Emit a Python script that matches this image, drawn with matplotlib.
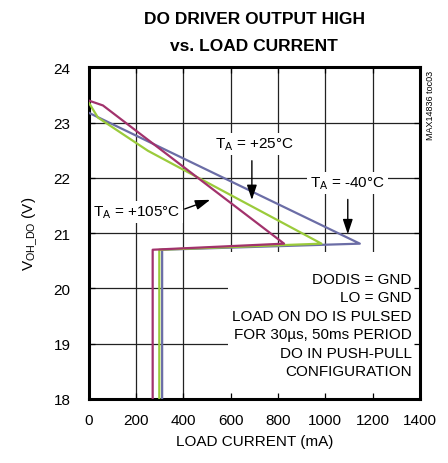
import matplotlib
matplotlib.use("Agg")
import matplotlib.pyplot as plt
from matplotlib import font_manager
from matplotlib.patches import Rectangle

names = {f.name for f in font_manager.fontManager.ttflist}
FONT = "Liberation Sans Narrow" if "Liberation Sans Narrow" in names else "Liberation Sans"
NARROW = FONT == "Liberation Sans Narrow"
plt.rcParams['font.family'] = [FONT, 'DejaVu Sans']
plt.rcParams['mathtext.fontset'] = 'custom'
plt.rcParams['mathtext.rm'] = FONT
plt.rcParams['mathtext.it'] = FONT

# Data (load current mA, VOH V)
cur_m40 = [0, 1146, 311, 311]
v_m40 = [23.18, 20.81, 20.70, 18.0]
cur_25 = [0, 40, 251, 984, 299, 299]
v_25 = [23.37, 23.09, 22.49, 20.81, 20.70, 18.0]
cur_105 = [0, 61, 826, 271, 271]
v_105 = [23.40, 23.31, 20.81, 20.70, 18.0]

xticks = [0, 200, 400, 600, 800, 1000, 1200, 1400]
yticks = [18, 19, 20, 21, 22, 23, 24]

C_M40 = "#6B6DA6"
C_25 = "#9BCB3B"
C_105 = "#A2326C"

FS = 12.5 if NARROW else 11
TFS = 14.5 if NARROW else 12.5

fig = plt.figure(figsize=(4.48, 4.64), dpi=100)
ax = fig.add_axes([88.5/448, 1-400/464, (420-88.5)/448, (400-68.3)/464])
ax.set_xlim(0, 1400)
ax.set_ylim(18, 24)

for x in xticks[1:-1]:
    ax.axvline(x, color='#222222', lw=0.9, zorder=1)
for y in yticks[1:-1]:
    ax.axhline(y, color='#222222', lw=0.9, zorder=1)

ax.add_patch(Rectangle((0.421, 0.0), 0.579, 0.443, transform=ax.transAxes,
                       facecolor='white', edgecolor='none', zorder=1.5))

ax.plot(cur_m40, v_m40, color=C_M40, lw=1.6, zorder=3)
ax.plot(cur_25, v_25, color=C_25, lw=1.6, zorder=3)
ax.plot(cur_105, v_105, color=C_105, lw=1.6, zorder=3.1)

ax.set_xticks(xticks)
ax.set_yticks(yticks)
ax.tick_params(direction='in', length=4, width=0.9, labelsize=FS, top=True, right=True)
ax.tick_params(axis='x', pad=10)
ax.tick_params(axis='y', pad=13)
for s in ax.spines.values():
    s.set_linewidth(2.2)

ax.set_xlabel("LOAD CURRENT (mA)", fontsize=FS, labelpad=5)
ax.set_ylabel(r"$\mathregular{V_{OH\_DO}}$ (V)", fontsize=FS, labelpad=10)

fig.text(0.567, 0.957, "DO DRIVER OUTPUT HIGH", ha='center', va='center',
         fontsize=TFS, fontweight='bold')
fig.text(0.567, 0.899, "vs. LOAD CURRENT", ha='center', va='center',
         fontsize=TFS, fontweight='bold')

bb = dict(boxstyle='square,pad=0.2', facecolor='white', edgecolor='none')
arw = dict(arrowstyle='-|>,head_length=0.9,head_width=0.3', color='black', lw=1.0)
ax.text(534, 22.61, r"$\mathregular{T_A}$ = +25°C", ha='left', va='center',
        fontsize=FS, bbox=bb, zorder=2)
ax.annotate("", xy=(690, 21.55), xytext=(690, 22.36), arrowprops=arw, zorder=4)
ax.text(1093, 21.91, r"$\mathregular{T_A}$ = -40°C", ha='center', va='center',
        fontsize=FS, bbox=bb, zorder=2)
ax.annotate("", xy=(1095, 20.93), xytext=(1095, 21.66), arrowprops=arw, zorder=4)
ax.text(203, 21.38, r"$\mathregular{T_A}$ = +105°C", ha='center', va='center',
        fontsize=FS, bbox=bb, zorder=2)
ax.annotate("", xy=(525, 21.62), xytext=(395, 21.42), arrowprops=arw, zorder=4)

ax.text(1365, 19.34, "DODIS = GND\nLO = GND\nLOAD ON DO IS PULSED\nFOR 30µs, 50ms PERIOD\nDO IN PUSH-PULL\nCONFIGURATION",
        ha='right', va='center', fontsize=FS, linespacing=1.4, zorder=2)

fig.text(430/448, 1-105/464, "MAX14836 toc03", rotation=90, ha='center', va='center',
         fontsize=6.5)

fig.savefig("out.png", dpi=100)
